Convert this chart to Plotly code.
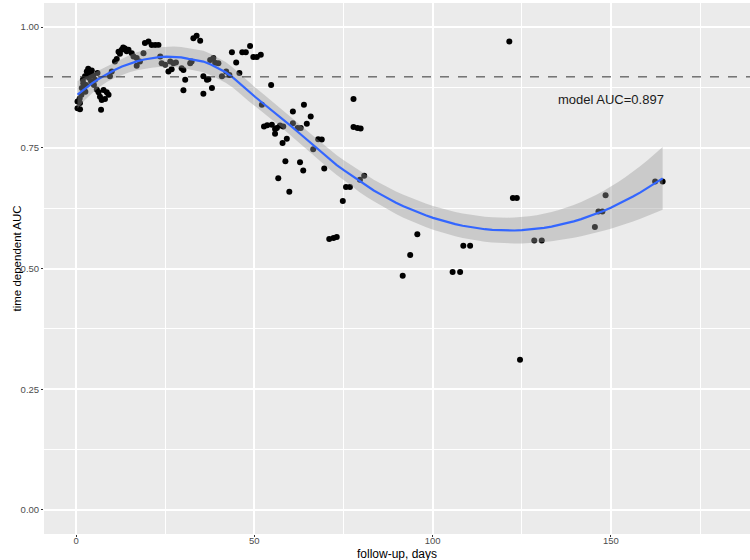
import numpy as np
import plotly.graph_objects as go

# follow-up day and time dependent AUC
days = [
    0.4, 1.1, 0.4, 1.1, 3.4, 4.4, 2.5, 3.2, 1.9, 2.0, 1.6,
    5.3, 5.8, 6.3, 6.7, 7.2, 8.1, 8.6, 9.1, 7.7, 7.0,
    1.5, 2.2, 2.8, 3.6, 4.0, 4.8, 5.0, 6.0, 1.0, 2.6, 3.0, 4.2,
    9.5, 10.0, 10.9, 11.4, 11.9, 12.8, 13.7, 14.7, 12.3, 13.2, 14.2,
    15.6, 16.1, 17.0, 17.9, 18.9, 17.0,
    19.3, 20.3, 21.2, 22.2, 23.1, 23.6, 24.0, 25.0,
    26.4, 27.3, 28.0, 25.9, 26.8, 29.6, 30.1, 30.6, 30.1,
    32.0, 32.4, 32.9, 33.8, 34.8, 35.7, 36.7, 37.1, 35.7,
    38.1, 38.5, 37.6, 39.0, 39.9, 40.9, 42.1, 43.0, 43.7, 44.9, 45.8,
    46.6, 47.6, 48.8, 49.7, 50.7, 51.8, 54.7, 52.1, 52.7, 53.6,
    77.8, 63.9, 60.8, 65.8, 60.8, 58.1, 57.2, 56.3, 55.8, 54.9, 62.1, 63.0,
    64.7, 55.8, 59.1, 57.9, 67.9, 68.9, 66.5, 77.8, 78.9, 79.8, 58.7, 62.8,
    63.7, 69.6, 56.7, 59.8, 80.8, 79.6, 75.7, 76.8, 74.8, 71.0, 72.2, 73.1,
    95.7, 93.7, 91.6, 108.6, 110.5, 105.6, 107.7,
    121.5, 122.5, 123.6, 124.5, 128.5, 130.6, 145.5, 146.5, 147.6, 148.5,
    162.4, 164.5,
]
auc = [
    0.846, 0.843, 0.832, 0.830, 0.914, 0.910, 0.898, 0.901, 0.891, 0.884, 0.874,
    0.891, 0.871, 0.865, 0.856, 0.849, 0.851, 0.865, 0.860, 0.870, 0.829,
    0.860, 0.870, 0.880, 0.895, 0.905, 0.900, 0.880, 0.905, 0.852, 0.866, 0.908, 0.888,
    0.898, 0.908, 0.929, 0.934, 0.949, 0.953, 0.956, 0.953, 0.945, 0.958, 0.950,
    0.946, 0.939, 0.936, 0.929, 0.946, 0.920,
    0.967, 0.970, 0.963, 0.963, 0.963, 0.939, 0.925, 0.922,
    0.929, 0.925, 0.927, 0.908, 0.913, 0.915, 0.911, 0.891, 0.869,
    0.925, 0.929, 0.977, 0.982, 0.972, 0.898, 0.891, 0.892, 0.862,
    0.874, 0.936, 0.932, 0.926, 0.925, 0.898, 0.908, 0.901, 0.948, 0.927, 0.905,
    0.948, 0.948, 0.961, 0.938, 0.938, 0.943, 0.880, 0.839, 0.794, 0.797,
    0.851, 0.839, 0.825, 0.815, 0.801, 0.794, 0.796, 0.791, 0.789, 0.798, 0.791, 0.791,
    0.800, 0.779, 0.769, 0.760, 0.768, 0.767, 0.747, 0.793, 0.791, 0.790, 0.722, 0.720,
    0.703, 0.707, 0.687, 0.659, 0.692, 0.684, 0.669, 0.669, 0.640, 0.561, 0.563, 0.565,
    0.571, 0.528, 0.485, 0.547, 0.547, 0.493, 0.493,
    0.970, 0.646, 0.646, 0.311, 0.558, 0.558, 0.586, 0.618, 0.618, 0.652,
    0.680, 0.680,
]
model_auc = 0.897
x_ticks = [0, 50, 100, 150]
y_ticks = [0.00, 0.25, 0.50, 0.75, 1.00]


def loess(x, y, grid, span=0.75):
    # local quadratic fit with tricube weights, like ggplot's geom_smooth default
    n = len(x)
    q = int(np.floor(n * span))

    def row(x0):
        d = np.abs(x - x0)
        h = np.sort(d)[q - 1]
        w = np.clip(1 - (d / h) ** 3, 0, None) ** 3
        X = np.column_stack([np.ones(n), x - x0, (x - x0) ** 2])
        W = X * w[:, None]
        return np.linalg.solve(X.T @ W, W.T)[0]

    L = np.array([row(v) for v in x])
    resid = y - L @ y
    M = (np.eye(n) - L).T @ (np.eye(n) - L)
    sigma = np.sqrt(resid @ resid / np.trace(M))
    lg = np.array([row(v) for v in grid])
    fit = lg @ y
    se = sigma * np.sqrt((lg ** 2).sum(axis=1))
    return fit, se


x = np.array(days)
y = np.array(auc)
grid = np.linspace(x.min(), x.max(), 80)
fit, se = loess(x, y, grid)
lo = fit - 1.97 * se
hi = fit + 1.97 * se

fig = go.Figure()

fig.add_trace(go.Scatter(
    x=days, y=auc, mode="markers",
    marker=dict(color="black", size=6),
    showlegend=False,
))

# confidence band drawn over the points (greys them, as in ggplot)
fig.add_trace(go.Scatter(
    x=np.concatenate([grid, grid[::-1]]),
    y=np.concatenate([hi, lo[::-1]]),
    mode="lines", fill="toself",
    fillcolor="rgba(153,153,153,0.4)",
    line=dict(width=0),
    showlegend=False, hoverinfo="skip",
))
fig.add_trace(go.Scatter(
    x=grid, y=fit, mode="lines",
    line=dict(color="#3366FF", width=2.2),
    showlegend=False,
))

fig.add_hline(
    y=model_auc,
    line=dict(color="#333333", width=1, dash="dash"),
)
fig.add_annotation(
    text=f"model AUC={model_auc}",
    x=150, y=0.85, xref="x", yref="y",
    showarrow=False,
    font=dict(size=13, color="#1a1a1a"),
)

# axis titles
fig.add_annotation(
    text="follow-up, days",
    x=0.5, y=0, xref="paper", yref="paper",
    yanchor="top", yshift=-11,
    showarrow=False,
    font=dict(size=12, color="black"),
)
fig.add_annotation(
    text="time dependent AUC",
    x=0, y=0.5, xref="paper", yref="paper",
    xshift=-36, yshift=10, textangle=-90,
    showarrow=False,
    font=dict(size=11.5, color="black"),
)

grid_style = dict(
    showgrid=True, gridcolor="white", gridwidth=1.5,
    zeroline=False, showline=False,
    ticks="outside", ticklen=2, tickcolor="#333333", tickwidth=1,
    tickfont=dict(size=9.5, color="#4d4d4d"),
    automargin=False,
)

fig.update_layout(
    width=750,
    height=560,
    margin=dict(l=44, r=0, t=3, b=26),
    plot_bgcolor="#EBEBEB",
    paper_bgcolor="white",
    hovermode=False,
    font=dict(family="Liberation Sans, Arial, sans-serif"),
    xaxis=dict(
        range=[-9, 189],
        tickvals=x_ticks,
        ticklabelstandoff=-4,
        minor=dict(showgrid=True, gridcolor="white", gridwidth=0.7, dtick=25, tick0=0),
        **grid_style,
    ),
    yaxis=dict(
        range=[-0.05, 1.05],
        tickvals=y_ticks,
        tickformat=".2f",
        minor=dict(showgrid=True, gridcolor="white", gridwidth=0.7, dtick=0.125, tick0=0),
        **grid_style,
    ),
)

fig.write_html(
    "out.html",
    config={"displayModeBar": False},
    post_script="document.body.style.margin='0';document.body.style.overflow='hidden';",
)
